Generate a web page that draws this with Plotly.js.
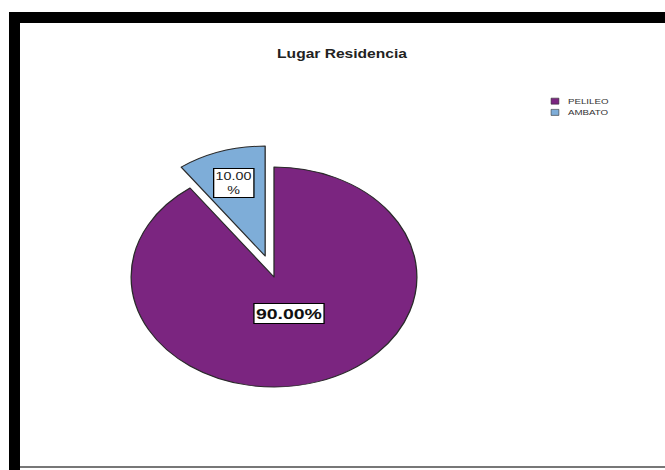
<!DOCTYPE html>
<html>
<head>
<meta charset="utf-8">
<script src="https://cdn.plot.ly/plotly-3.0.1.min.js"></script>
<style>
html,body{margin:0;padding:0;background:#fff;overflow:hidden;}
#chart{width:512px;height:470px;transform:scaleX(1.298828);transform-origin:0 0;}
</style>
</head>
<body>
<div id="chart"></div>
<script>
// Data
const categories = ["PELILEO", "AMBATO"];
const values = [90, 10];
const colors = ["#7B2580", "#7EADD8"];
const chartTitle = "Lugar Residencia";

// Layout constants: the picture is horizontally stretched (internal width 512 -> 665)
const W = 665, H = 470, WI = 512;
const CX = 274, CY = 277, RY = 110, PULL = 0.2;

const pulls = [0, PULL];
const half = RY * (1 + PULL);

const trace = {
  type: "pie",
  labels: categories,
  values: values,
  sort: false,
  direction: "clockwise",
  rotation: 0,
  pull: pulls,
  marker: { colors: colors, line: { color: "#2a2a2a", width: 1 } },
  textinfo: "none",
  hoverinfo: "skip",
  domain: {
    x: [CX / W - half / WI, CX / W + half / WI],
    y: [1 - (CY + half) / H, 1 - (CY - half) / H]
  }
};

// label annotations computed from the data
const total = values.reduce((a, b) => a + b, 0);
const fracs = [0.35, 0.9];
const fonts = [
  { family: "Arial, Liberation Sans", size: 15, color: "#111", weight: "bold" },
  { family: "Arial, Liberation Sans", size: 11, color: "#222" }
];
const annotations = [];
let acc = 0;
values.forEach((v, i) => {
  const mid = (acc + v / 2) / total * 2 * Math.PI;
  acc += v;
  const pct = (v / total * 100).toFixed(2);
  const txt = i === 0 ? pct + "%" : pct + "<br>%";
  annotations.push({
    xref: "paper", yref: "paper",
    x: CX / W + fracs[i] * Math.sin(mid) * RY / WI,
    y: 1 - CY / H + fracs[i] * Math.cos(mid) * RY / H,
    xanchor: "center", yanchor: "middle",
    text: txt, showarrow: false,
    font: fonts[i],
    bgcolor: "#ffffff", bordercolor: "#000", borderwidth: 1, borderpad: 1
  });
});

const layout = {
  width: WI, height: H,
  margin: { l: 0, r: 0, t: 0, b: 0, autoexpand: false },
  paper_bgcolor: "#fff",
  title: {
    text: "<b>" + chartTitle + "</b>",
    x: 342 / W, y: 1 - 54 / H, xanchor: "center", yanchor: "middle",
    font: { family: "Arial, Liberation Sans", size: 12, color: "#222" }
  },
  showlegend: true,
  legend: {
    x: 542 / W, y: 1 - 93 / H, xanchor: "left", yanchor: "top",
    font: { family: "Arial, Liberation Sans", size: 15, color: "#333" },
    tracegroupgap: 0, bgcolor: "rgba(0,0,0,0)"
  },
  annotations: annotations,
  shapes: [
    { type: "rect", xref: "paper", yref: "paper", x0: 9 / W, x1: 20 / W, y0: 0, y1: 1 - 12 / H, fillcolor: "#000", line: { width: 0 } },
    { type: "rect", xref: "paper", yref: "paper", x0: 9 / W, x1: 1, y0: 1 - 23 / H, y1: 1 - 12 / H, fillcolor: "#000", line: { width: 0 } },
    { type: "line", xref: "paper", yref: "paper", x0: 20 / W, x1: 1, y0: 1 - 467 / H, y1: 1 - 467 / H, line: { color: "#777", width: 2 } }
  ]
};

Plotly.newPlot("chart", [trace], layout, { staticPlot: true, displayModeBar: false }).then(gd => {
  const lg = gd.querySelector(".legend");
  if (lg) {
    const t = lg.getAttribute("transform") || "";
    lg.setAttribute("transform", t + " scale(0.5)");
  }
});
</script>
</body>
</html>
